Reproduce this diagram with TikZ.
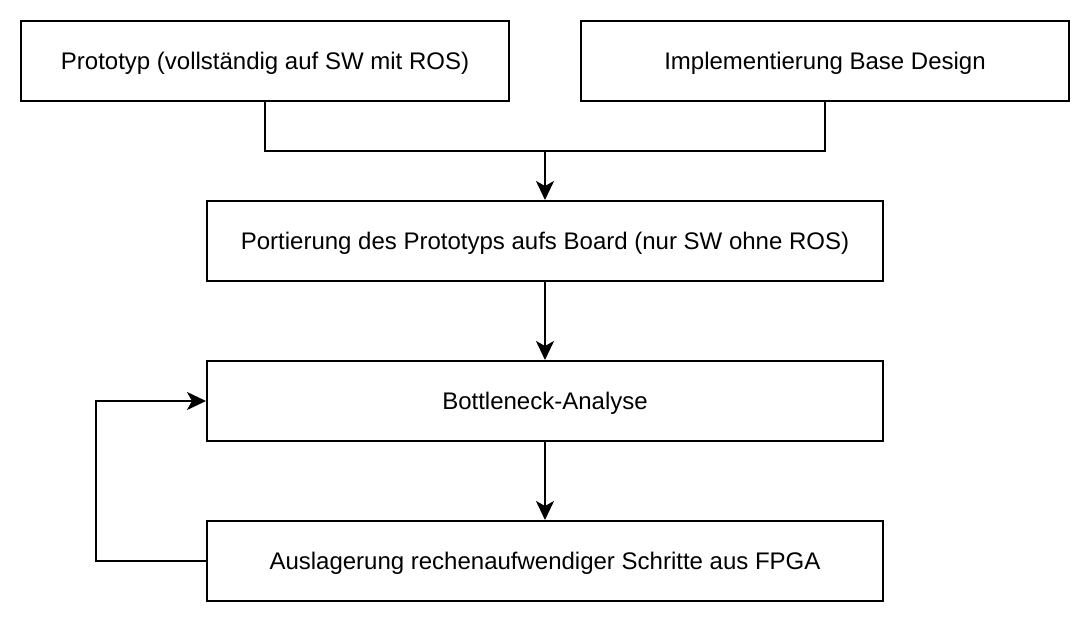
\documentclass[tikz,border=0pt]{standalone}
\usepackage{fontspec}
\setmainfont{Liberation Sans}
\usetikzlibrary{arrows.meta}
\tikzset{
  box/.style={draw, line width=2pt, minimum width=488pt, minimum height=80pt,
    inner sep=0pt, text height=17pt, text depth=0pt,
    font=\fontsize{24}{28}\selectfont},
  wide/.style={box, minimum width=676pt},
  plain/.style={line width=2pt},
  link/.style={plain, arrows={-Stealth[length=19pt, width=18pt, inset=5pt]}}
}
\begin{document}
\begin{tikzpicture}[x=1pt,y=-1pt]
  \useasboundingbox (0,0) rectangle (1090,622);
  \node[box]  (proto) at (265,61)  {Prototyp (vollständig auf SW mit ROS)};
  \node[box]  (base)  at (825,61)  {Implementierung Base Design};
  \node[wide] (port)  at (545,241) {Portierung des Prototyps aufs Board (nur SW ohne ROS)};
  \node[wide] (bott)  at (545,401) {Bottleneck-Analyse};
  \node[wide] (ausl)  at (545,561) {Auslagerung rechenaufwendiger Schritte aus FPGA};
  \coordinate (join) at (545,151);
  \draw[plain] (proto.south) |- (join);
  \draw[plain] (base.south) |- (join);
  \draw[link] (join) -- (port.north);
  \draw[link] (port) -- (bott);
  \draw[link] (bott) -- (ausl);
  \draw[link] (ausl.west) -- ++(-110,0) |- (bott.west);
\end{tikzpicture}
\end{document}
